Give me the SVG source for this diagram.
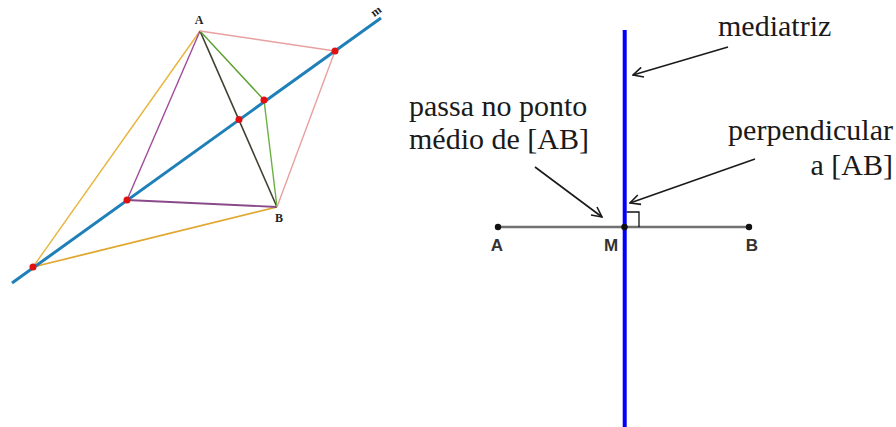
<svg xmlns="http://www.w3.org/2000/svg" width="896" height="427" viewBox="0 0 896 427">
<style>
.lbl{font-family:"Liberation Serif","Tinos","Times New Roman","Noto Serif","DejaVu Serif",serif;font-weight:bold;font-size:12px;fill:#222}
.txt{font-family:"Liberation Serif","Tinos","Times New Roman","Noto Serif","DejaVu Serif",serif;font-size:30px;fill:#1a1a1a}
.pt{font-family:"Liberation Sans",Arial,sans-serif;font-weight:bold;font-size:17px;fill:#333}
.arr{stroke:#1a1a1a;stroke-width:1.6;fill:none}
.red{fill:#e01010}
</style>
<defs>
<marker id="ah" viewBox="0 0 12 12" refX="11" refY="6" markerWidth="12" markerHeight="12" markerUnits="userSpaceOnUse" orient="auto">
<path d="M1,1 L11,6 L1,11" fill="none" stroke="#1a1a1a" stroke-width="1.6"/>
</marker>
</defs>
<rect width="896" height="427" fill="#fff"/>
<g id="left-figure">
<g id="connectors-left" fill="none" stroke-width="1.4">
<line x1="200" y1="31" x2="33" y2="267" stroke="#e8b43a"/>
<line x1="33" y1="267" x2="277" y2="207" stroke="#e0a830" stroke-width="1.8"/>
<line x1="200" y1="31" x2="127" y2="200" stroke="#a04a9a"/>
<line x1="127" y1="200" x2="277" y2="207" stroke="#8a4a8a" stroke-width="1.8"/>
<line x1="200" y1="31" x2="277" y2="207" stroke="#404030" stroke-width="1.6"/>
<line x1="200" y1="31" x2="264" y2="100" stroke="#5aa030"/>
<line x1="264" y1="100" x2="277" y2="207" stroke="#6ab040"/>
<line x1="200" y1="31" x2="335" y2="51" stroke="#e8a0a0"/>
<line x1="335" y1="51" x2="277" y2="207" stroke="#e8a0a0"/>
<line x1="12" y1="283" x2="381" y2="18" stroke="#1f7fb8" stroke-width="3"/>
</g>
<g id="points-left">
<circle class="red" cx="33" cy="267" r="3.5"/>
<circle class="red" cx="127" cy="200" r="3.5"/>
<circle class="red" cx="239" cy="119.5" r="3.5"/>
<circle class="red" cx="264" cy="100" r="3.5"/>
<circle class="red" cx="335" cy="51" r="3.5"/>
</g>
<text class="lbl" x="199" y="24" text-anchor="middle">A</text>
<text class="lbl" x="279" y="222" text-anchor="middle">B</text>
<text class="lbl" x="376" y="15" text-anchor="middle" transform="rotate(-36 376 11)">m</text>
</g>
<g id="segment-AB">
<line x1="498" y1="227" x2="749" y2="227" stroke="#707070" stroke-width="2.5"/>
<circle cx="498" cy="227" r="3.2" fill="#111"/>
<circle cx="749" cy="227" r="3.2" fill="#111"/>
<text class="pt" x="497" y="251" text-anchor="middle">A</text>
<text class="pt" x="752" y="251" text-anchor="middle">B</text>
</g>
<g id="mediatriz-line">
<line x1="624.7" y1="30" x2="624.7" y2="427" stroke="#0000ff" stroke-width="4"/>
<path d="M626.5,212 H639 V227" fill="none" stroke="#111" stroke-width="1.3"/>
<circle cx="624.5" cy="227" r="3.2" fill="#111"/>
<text class="pt" x="611" y="251" text-anchor="middle">M</text>
</g>
<g id="label-mediatriz">
<text class="txt" x="718" y="36">mediatriz</text>
</g>
<g id="label-passa">
<text class="txt" x="409" y="116">passa no ponto</text>
<text class="txt" x="409" y="149">médio de [AB]</text>
</g>
<g id="label-perpendicular">
<text class="txt" x="893" y="140" text-anchor="end">perpendicular</text>
<text class="txt" x="893" y="175" text-anchor="end">a [AB]</text>
</g>
<g id="connectors">
<line class="arr" x1="728" y1="47" x2="633" y2="75" marker-end="url(#ah)"/>
<line class="arr" x1="755" y1="159" x2="630" y2="203" marker-end="url(#ah)"/>
<line class="arr" x1="535" y1="167" x2="602" y2="217" marker-end="url(#ah)"/>
</g>
</svg>
